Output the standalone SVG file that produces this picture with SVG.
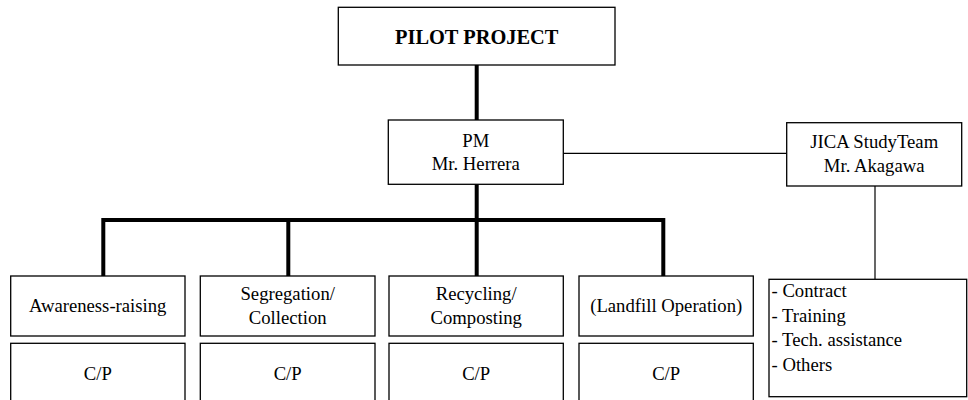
<svg xmlns="http://www.w3.org/2000/svg" width="968" height="400" viewBox="0 0 968 400">
<style>
.box{fill:#fff;stroke:#000;stroke-width:1.3}
.t{font-family:"Liberation Serif","Times New Roman",serif;font-size:18.7px;fill:#000;text-anchor:middle}
.l{font-family:"Liberation Serif","Times New Roman",serif;font-size:18.7px;fill:#000}
.b{font-family:"Liberation Serif","Times New Roman",serif;font-size:20.4px;font-weight:bold;fill:#000;text-anchor:middle}
.thick{stroke:#000;stroke-width:4;fill:none}
.thin{stroke:#000;stroke-width:1.2;fill:none}
</style>
<rect width="968" height="400" fill="#fff"/>
<g id="connectors">
<line class="thick" x1="476.7" y1="65" x2="476.7" y2="120"/>
<line class="thick" x1="476.7" y1="184" x2="476.7" y2="276"/>
<polyline class="thick" points="103.3,276 103.3,220 663.3,220 663.3,276"/>
<line class="thick" x1="288.3" y1="220" x2="288.3" y2="276"/>
<line class="thin" x1="563.3" y1="153.3" x2="786.7" y2="153.3"/>
<line class="thin" x1="875" y1="186" x2="875" y2="279.3"/>
</g>
<g id="pilot">
<rect class="box" x="338.3" y="7.3" width="276.7" height="57.7"/>
<text class="b" x="476.7" y="44">PILOT PROJECT</text>
</g>
<g id="pm">
<rect class="box" x="388.3" y="120" width="175" height="64.3"/>
<text class="t" x="475.8" y="146.7">PM</text>
<text class="t" x="475.8" y="170">Mr. Herrera</text>
</g>
<g id="jica">
<rect class="box" x="786.7" y="122.7" width="175" height="63.3"/>
<text class="t" x="874.2" y="148.3">JICA StudyTeam</text>
<text class="t" x="874.2" y="171.7">Mr. Akagawa</text>
</g>
<g id="tasks">
<rect class="box" x="769" y="279.3" width="197.7" height="117.4"/>
<text class="l" x="771.5" y="296.7">- Contract</text>
<text class="l" x="771.5" y="321.5">- Training</text>
<text class="l" x="771.5" y="346.3">- Tech. assistance</text>
<text class="l" x="771.5" y="370.7">- Others</text>
</g>
<g id="awareness">
<rect class="box" x="10.7" y="276" width="174.3" height="60"/>
<text class="t" x="97.8" y="311.7">Awareness-raising</text>
</g>
<g id="segregation">
<rect class="box" x="200.3" y="276" width="174.7" height="60"/>
<text class="t" x="287.7" y="300">Segregation/</text>
<text class="t" x="287.7" y="324.3">Collection</text>
</g>
<g id="recycling">
<rect class="box" x="389" y="276" width="174.3" height="60"/>
<text class="t" x="476.2" y="300">Recycling/</text>
<text class="t" x="476.2" y="324.3">Composting</text>
</g>
<g id="landfill">
<rect class="box" x="579" y="276" width="174.3" height="60"/>
<text class="t" x="666.2" y="311.7">(Landfill Operation)</text>
</g>
<g id="cp1">
<rect class="box" x="10.7" y="343.3" width="174.3" height="70"/>
<text class="t" x="97.8" y="380">C/P</text>
</g>
<g id="cp2">
<rect class="box" x="200.3" y="343.3" width="174.7" height="70"/>
<text class="t" x="287.7" y="380">C/P</text>
</g>
<g id="cp3">
<rect class="box" x="389" y="343.3" width="174.3" height="70"/>
<text class="t" x="476.2" y="380">C/P</text>
</g>
<g id="cp4">
<rect class="box" x="579" y="343.3" width="174.3" height="70"/>
<text class="t" x="666.2" y="380">C/P</text>
</g>
</svg>
